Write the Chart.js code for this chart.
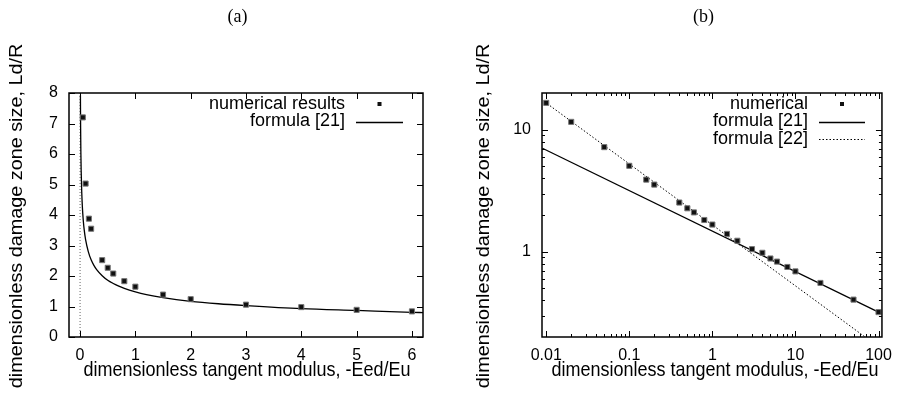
<!DOCTYPE html>
<html>
<head>
<meta charset="utf-8">
<script src="https://cdn.jsdelivr.net/npm/chart.js@4"></script>
<style>
  html, body { margin: 0; padding: 0; background: #fff; }
  #wrap { position: relative; width: 901px; height: 394px; overflow: hidden; }
  canvas { position: absolute; top: 0; }
  #chartA { left: 0; }
  #chartB { left: 451px; }
</style>
</head>
<body>
<div id="wrap">
  <canvas id="chartA" width="451" height="394"></canvas>
  <canvas id="chartB" width="450" height="394"></canvas>
</div>
<script>
// ---- (a) linear axes ----
const numAx = [0.05, 0.1, 0.16, 0.2, 0.4, 0.5, 0.6, 0.8, 1, 1.5, 2, 3, 4, 5, 6];
const numAy = [7.2, 5.03, 3.88, 3.55, 2.52, 2.27, 2.08, 1.83, 1.65, 1.39, 1.24, 1.06, 0.98, 0.89, 0.84];
// formula [21] curve
const f21Ax = [0.0065, 0.01, 0.015, 0.02, 0.03, 0.04, 0.05, 0.06, 0.075, 0.1, 0.15, 0.2, 0.25, 0.3, 0.4, 0.5, 0.6, 0.7, 0.8, 1, 1.2, 1.5, 2, 2.5, 3, 4, 5, 6, 6.2];
const f21Ay = [7.93, 6.87, 6.0, 5.45, 4.76, 4.33, 4.02, 3.78, 3.51, 3.19, 2.79, 2.53, 2.35, 2.21, 2.01, 1.86, 1.755, 1.67, 1.595, 1.48, 1.39, 1.29, 1.17, 1.09, 1.03, 0.93, 0.87, 0.81, 0.80];
const zeroAx = [0, 0];
const zeroAy = [0, 8];
const xTicksA = [0, 1, 2, 3, 4, 5, 6];
const yTicksA = [0, 1, 2, 3, 4, 5, 6, 7, 8];

// ---- (b) log-log axes ----
const numBx = [0.01, 0.02, 0.05, 0.1, 0.16, 0.2, 0.4, 0.5, 0.6, 0.8, 1, 1.5, 2, 3, 4, 5, 6, 8, 10, 20, 50, 100];
const numBy = [16.6, 11.6, 7.2, 5.06, 3.9, 3.55, 2.53, 2.27, 2.1, 1.82, 1.67, 1.40, 1.23, 1.05, 0.98, 0.88, 0.83, 0.75, 0.69, 0.555, 0.405, 0.32];
const f21Bx = [0.009, 100];
const f21By = [7.05, 0.32];
const f22Bx = [0.0095, 69];
const f22By = [17.0, 0.2];
const xTicksB = [0.01, 0.1, 1, 10, 100];
const yTicksB = [1, 10];
const xMinorB = [0.02, 0.03, 0.04, 0.05, 0.06, 0.07, 0.08, 0.09, 0.2, 0.3, 0.4, 0.5, 0.6, 0.7, 0.8, 0.9,
                 2, 3, 4, 5, 6, 7, 8, 9, 20, 30, 40, 50, 60, 70, 80, 90];
const yMinorB = [0.3, 0.4, 0.5, 0.6, 0.7, 0.8, 0.9, 2, 3, 4, 5, 6, 7, 8, 9];

const xTitle = 'dimensionless tangent modulus, -Eed/Eu';
const yTitle = 'dimensionless damage zone size, Ld/R';

const SANS = '"Liberation Sans", Arial, sans-serif';
const SERIF = '"Liberation Serif", "Times New Roman", serif';

const pts = (xs, ys) => xs.map((x, i) => ({ x: x, y: ys[i] }));

// gnuplot style frame: box border, inward ticks on all sides, key and loose labels
const gnuFrame = {
  id: 'gnuFrame',
  afterDatasetsDraw(chart, args, opts) {
    const ctx = chart.ctx, a = chart.chartArea;
    const sx = chart.scales.x, sy = chart.scales.y;
    ctx.save();
    ctx.strokeStyle = '#000';
    ctx.lineWidth = 1;
    ctx.beginPath();
    const tickX = (vals, len) => vals.forEach(v => {
      const p = Math.round(sx.getPixelForValue(v)) + 0.5;
      ctx.moveTo(p, a.bottom); ctx.lineTo(p, a.bottom - len);
      ctx.moveTo(p, a.top); ctx.lineTo(p, a.top + len);
    });
    const tickY = (vals, len) => vals.forEach(v => {
      const p = Math.round(sy.getPixelForValue(v)) + 0.5;
      ctx.moveTo(a.left, p); ctx.lineTo(a.left + len, p);
      ctx.moveTo(a.right, p); ctx.lineTo(a.right - len, p);
    });
    tickX(opts.xMajor, 6); tickX(opts.xMinor || [], 3);
    tickY(opts.yMajor, 6); tickY(opts.yMinor || [], 3);
    ctx.stroke();
    ctx.lineWidth = 1.5;
    ctx.strokeRect(a.left, a.top, a.right - a.left, a.bottom - a.top);
    ctx.restore();
  },
  afterDraw(chart, args, opts) {
    const ctx = chart.ctx;
    const key = opts.key;
    ctx.save();
    ctx.fillStyle = '#000';
    ctx.font = '18px ' + SANS;
    ctx.textAlign = 'right';
    ctx.textBaseline = 'middle';
    let row = 0;
    chart.data.datasets.forEach(ds => {
      if (ds.noKey) return;
      const y = key.top + key.step * row;
      row++;
      ctx.fillText(ds.label, key.textRight, y);
      if (ds.showLine) {
        ctx.strokeStyle = ds.borderColor;
        ctx.lineWidth = ds.borderWidth;
        ctx.setLineDash(ds.borderDash || []);
        ctx.beginPath();
        ctx.moveTo(key.x1, Math.round(y) + 0.5);
        ctx.lineTo(key.x2, Math.round(y) + 0.5);
        ctx.stroke();
        ctx.setLineDash([]);
      } else {
        const m = (key.x1 + key.x2) / 2;
        ctx.fillStyle = ds.backgroundColor;
        ctx.fillRect(m - 2, y - 2, 4, 4);
        ctx.fillStyle = '#000';
      }
    });
    (opts.texts || []).forEach(t => {
      ctx.save();
      ctx.translate(t.x, t.y);
      if (t.rot) ctx.rotate(t.rot);
      if (t.sx || t.sy) ctx.scale(t.sx || 1, t.sy || 1);
      ctx.font = t.font;
      ctx.textAlign = 'center';
      ctx.textBaseline = 'middle';
      ctx.fillStyle = '#000';
      ctx.fillText(t.text, 0, 0);
      ctx.restore();
    });
    ctx.restore();
  }
};

const pointSet = (label, data) => ({
  label: label, data: data, showLine: false,
  pointStyle: 'rect', pointRadius: 3.6, pointHoverRadius: 3.6,
  backgroundColor: '#111', borderColor: '#777', borderWidth: 1
});
const lineSet = (label, data, dash, extra) => Object.assign({
  label: label, data: data, showLine: true, pointRadius: 0, pointHoverRadius: 0,
  borderColor: '#000', borderWidth: dash ? 1 : 1.3, borderDash: dash || [],
  backgroundColor: 'transparent', fill: false
}, extra || {});

const tickFont = { family: SANS, size: 16 };

function axis(type, min, max, tickVals, size, horizontal, pad) {
  return {
    type: type, min: min, max: max,
    grid: { display: false, drawTicks: false },
    border: { display: false },
    afterBuildTicks: s => { s.ticks = tickVals.map(v => ({ value: v })); },
    afterFit: s => { if (horizontal) s.height = size; else s.width = size; },
    ticks: { color: '#000', font: tickFont, padding: pad, autoSkip: false, maxRotation: 0,
             callback: v => String(v) }
  };
}

Chart.defaults.font.family = SANS;
Chart.defaults.color = '#000';

// ---- chart (a) ----
new Chart(document.getElementById('chartA'), {
  type: 'scatter',
  data: {
    datasets: [
      pointSet('numerical results', pts(numAx, numAy)),
      lineSet('formula [21]', pts(f21Ax, f21Ay), null, { cubicInterpolationMode: 'monotone' }),
      lineSet('', pts(zeroAx, zeroAy), [1, 2], { borderColor: '#666', noKey: true })
    ]
  },
  options: {
    responsive: false, animation: false, devicePixelRatio: 1,
    layout: { padding: { top: 93, right: 28, left: 0, bottom: 0 } },
    plugins: {
      legend: { display: false }, tooltip: { enabled: false },
      gnuFrame: {
        xMajor: xTicksA, yMajor: yTicksA,
        key: { top: 104, step: 17.5, textRight: 345, x1: 356, x2: 403 },
        texts: [
          { text: '(a)', x: 237.5, y: 17, font: '18px ' + SERIF, sy: 1.1 },
          { text: xTitle, x: 247, y: 371, font: '18px ' + SANS, sy: 1.08 },
          { text: yTitle, x: 17, y: 216, rot: -Math.PI / 2, font: '18px ' + SANS, sx: 1.1 }
        ]
      }
    },
    scales: {
      x: axis('linear', -0.2, 6.2, xTicksA, 57, true, 9),
      y: axis('linear', 0, 8, yTicksA, 69, false, 11)
    }
  },
  plugins: [gnuFrame]
});

// ---- chart (b) ----
new Chart(document.getElementById('chartB'), {
  type: 'scatter',
  data: {
    datasets: [
      pointSet('numerical', pts(numBx, numBy)),
      lineSet('formula [21]', pts(f21Bx, f21By)),
      lineSet('formula [22]', pts(f22Bx, f22By), [1.5, 2])
    ]
  },
  options: {
    responsive: false, animation: false, devicePixelRatio: 1,
    layout: { padding: { top: 93, right: 14, left: 0, bottom: 0 } },
    plugins: {
      legend: { display: false }, tooltip: { enabled: false },
      gnuFrame: {
        xMajor: xTicksB, yMajor: yTicksB, xMinor: xMinorB, yMinor: yMinorB,
        key: { top: 104, step: 17.5, textRight: 357, x1: 368, x2: 414 },
        texts: [
          { text: '(b)', x: 252.5, y: 17, font: '18px ' + SERIF, sy: 1.1 },
          { text: xTitle, x: 264, y: 371, font: '18px ' + SANS, sy: 1.08 },
          { text: yTitle, x: 33, y: 216, rot: -Math.PI / 2, font: '18px ' + SANS, sx: 1.1 }
        ]
      }
    },
    scales: {
      x: axis('logarithmic', 0.0089, 110, xTicksB, 57, true, 9),
      y: axis('logarithmic', 0.2, 20, yTicksB, 91, false, 11)
    }
  },
  plugins: [gnuFrame]
});
</script>
</body>
</html>
